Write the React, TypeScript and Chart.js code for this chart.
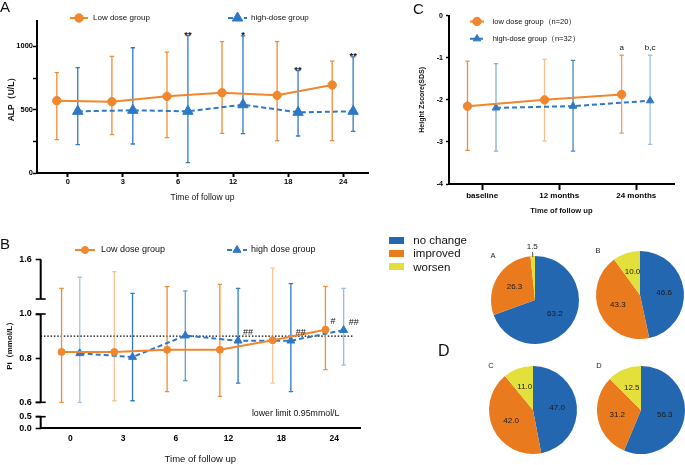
import React, { useEffect, useRef } from 'react';
import { Chart, registerables, LinearScale } from 'chart.js';

Chart.register(...registerables);

const FONT = "'Liberation Sans', Arial, Helvetica, sans-serif";
Chart.defaults.font.family = FONT;
Chart.defaults.color = '#000';

// ---------------- Panel A : ALP ----------------
const timeLabels = ['0', '3', '6', '12', '18', '24'];
const alpTicks = [0, 250, 500, 750, 1000];
const alpLowMean = [571, 563, 605, 634, 613, 695];
const alpLowLo = [263, 303, 279, 313, 255, 255];
const alpLowHi = [792, 921, 955, 1037, 1037, 884];
const alpHighMean = [487, 495, 487, 539, 479, 487];
const alpHighLo = [224, 229, 82, 311, 292, 329];
const alpHighHi = [832, 989, 1084, 1082, 808, 916];
const alpHighMarks = ['', '', '**', '*', '**', '**'];

// ---------------- Panel B : Pi ----------------
const piTicks = [0, 0.5, 0.6, 0.8, 1.0, 1.6];
const piLowMean = [0.828, 0.828, 0.838, 0.838, 0.881, 0.929];
const piLowLo = [0.6, 0.607, 0.648, 0.627, 0.687, 0.748];
const piLowHi = [1.308, 1.475, 1.324, 1.348, 1.512, 1.328];
const piHighMean = [0.822, 0.805, 0.902, 0.879, 0.879, 0.927];
const piHighLo = [0.6, 0.607, 0.698, 0.687, 0.648, 0.768];
const piHighHi = [1.419, 1.257, 1.281, 1.308, 1.354, 1.308];
const piLowMarks = ['', '', '', '', '', '#'];
const piHighMarks = ['', '', '', '##', '##', '##'];
const piLowerLimit = 0.9;
const piNote = 'lower limit 0.95mmol/L';

// ---------------- Panel C : Height Z score ----------------
const zLabels = ['baseline', '12 months', '24 months'];
const zTicks = [-4, -3, -2, -1, 0];
const zLowMean = [-2.15, -2.0, -1.87];
const zLowLo = [-3.2, -2.98, -2.79];
const zLowHi = [-1.08, -1.04, -0.94];
const zHighMean = [-2.19, -2.15, -2.02];
const zHighLo = [-3.22, -3.22, -3.06];
const zHighHi = [-1.14, -1.06, -0.94];
const zLowMarks = ['', '', 'a'];
const zHighMarks = ['', '', 'b,c'];

// ---------------- Panel D : pies ----------------
const pieCategories = ['no change', 'improved', 'worsen'];
const pieA = [63.2, 26.3, 1.5];
const pieB = [46.6, 43.3, 10.0];
const pieC = [47.0, 42.0, 11.0];
const pieD = [56.3, 31.2, 12.5];

// ---------------- styles ----------------
const ORANGE = '#F0862D';
const BLUE = '#2D79C5';
const PIE_COLORS = ['#2367B0', '#EA7A1E', '#E3E03C'];

// broken axis mapping for panel B (value -> fraction of axis height)
const brokenValues = [0, 0.5, 0.6, 1.0, 1.2, 1.6];
const brokenDecimals = [0, 0.0686, 0.1538, 0.6763, 0.765, 1];

function interp(v: number, xs: number[], ys: number[]) {
  for (let i = 1; i < xs.length; i++) {
    if (v <= xs[i] || i === xs.length - 1) {
      const t = (v - xs[i - 1]) / (xs[i] - xs[i - 1]);
      return ys[i - 1] + t * (ys[i] - ys[i - 1]);
    }
  }
  return ys[ys.length - 1];
}

class BrokenScale extends LinearScale {
  static id = 'broken';
  static defaults = LinearScale.defaults;
  getPixelForValue(value: number) {
    return this.getPixelForDecimal(interp(value, brokenValues, brokenDecimals));
  }
  getValueForPixel(pixel: number) {
    return interp(this.getDecimalForPixel(pixel), brokenDecimals, brokenValues);
  }
}
Chart.register(BrokenScale);

function drawMarker(ctx: CanvasRenderingContext2D, style: string, r: number, x: number, y: number) {
  ctx.beginPath();
  if (style === 'triangle') {
    let rad = 0;
    ctx.moveTo(x + Math.sin(rad) * r, y - Math.cos(rad) * r);
    rad += (2 * Math.PI) / 3;
    ctx.lineTo(x + Math.sin(rad) * r, y - Math.cos(rad) * r);
    rad += (2 * Math.PI) / 3;
    ctx.lineTo(x + Math.sin(rad) * r, y - Math.cos(rad) * r);
    ctx.closePath();
  } else {
    ctx.arc(x, y, r, 0, Math.PI * 2);
  }
  ctx.fill();
  ctx.stroke();
}

const errorBarPlugin = {
  id: 'errorBars',
  beforeDatasetsDraw(chart: any) {
    const ctx = chart.ctx;
    chart.data.datasets.forEach((ds: any, di: number) => {
      if (!ds.errLo) return;
      const meta = chart.getDatasetMeta(di);
      const ys = chart.scales[meta.yAxisID];
      ctx.save();
      ctx.lineWidth = 1.3;
      ctx.strokeStyle = ds.errColor;
      meta.data.forEach((pt: any, i: number) => {
        const x = pt.x;
        const y1 = ys.getPixelForValue(ds.errLo[i]);
        const y2 = ys.getPixelForValue(ds.errHi[i]);
        const cap = 2.2;
        ctx.globalAlpha = ds.errAlpha ? ds.errAlpha[i] : 1;
        ctx.beginPath();
        ctx.moveTo(x, y1);
        ctx.lineTo(x, y2);
        ctx.moveTo(x - cap, y1);
        ctx.lineTo(x + cap, y1);
        ctx.moveTo(x - cap, y2);
        ctx.lineTo(x + cap, y2);
        ctx.stroke();
      });
      ctx.restore();
    });
  },
};

const marksPlugin = {
  id: 'marks',
  afterDatasetsDraw(chart: any, _a: any, opts: any) {
    const ctx = chart.ctx;
    chart.data.datasets.forEach((ds: any, di: number) => {
      if (!ds.marks) return;
      const meta = chart.getDatasetMeta(di);
      const ys = chart.scales[meta.yAxisID];
      ctx.save();
      ctx.fillStyle = '#111';
      ctx.font = opts.font;
      meta.data.forEach((pt: any, i: number) => {
        const t = ds.marks[i];
        if (!t) return;
        if (opts.anchor === 'errTop') {
          ctx.textAlign = 'center';
          ctx.textBaseline = 'alphabetic';
          ctx.fillText(t, pt.x + opts.dx, ys.getPixelForValue(ds.errHi[i]) + opts.dy);
        } else {
          ctx.textAlign = 'left';
          ctx.textBaseline = 'middle';
          ctx.fillText(t, pt.x + opts.dx, pt.y + opts.dy);
        }
      });
      ctx.restore();
    });
  },
};

const lineLegendPlugin = {
  id: 'lineLegend',
  afterDraw(chart: any, _a: any, opts: any) {
    const ctx = chart.ctx;
    (opts.items || []).forEach((it: any) => {
      const ds = chart.data.datasets[it.dataset];
      ctx.save();
      ctx.strokeStyle = ds.borderColor;
      ctx.lineWidth = ds.borderWidth;
      ctx.setLineDash(ds.borderDash || []);
      ctx.beginPath();
      ctx.moveTo(it.x1, it.y);
      ctx.lineTo(it.x2, it.y);
      ctx.stroke();
      ctx.setLineDash([]);
      ctx.fillStyle = ds.backgroundColor;
      ctx.lineWidth = 1;
      drawMarker(ctx, ds.pointStyle, ds.pointRadius, (it.x1 + it.x2) / 2, it.y);
      ctx.fillStyle = '#111';
      ctx.font = opts.font;
      ctx.textAlign = 'left';
      ctx.textBaseline = 'middle';
      ctx.fillText(ds.label, it.textX, it.y);
      ctx.restore();
    });
  },
};

const brokenAxisPlugin = {
  id: 'brokenAxis',
  beforeDatasetsDraw(chart: any, _a: any, opts: any) {
    const { ctx, chartArea } = chart;
    const y = chart.scales.y;
    const x = chart.scales.x;
    const ry = y.getPixelForValue(opts.refValue);
    ctx.save();
    ctx.strokeStyle = '#000';
    ctx.lineWidth = 1.2;
    ctx.setLineDash([1.5, 1.8]);
    ctx.beginPath();
    ctx.moveTo(chartArea.left, ry);
    ctx.lineTo(x.getPixelForValue(opts.refEnd), ry);
    ctx.stroke();
    ctx.restore();
  },
  afterDraw(chart: any, _a: any, opts: any) {
    const { ctx, chartArea } = chart;
    const y = chart.scales.y;
    const x = chart.scales.x;
    const ax = chartArea.left;
    ctx.save();
    ctx.strokeStyle = '#000';
    ctx.lineWidth = 2;
    opts.segments.forEach((s: number[]) => {
      ctx.beginPath();
      ctx.moveTo(ax, y.getPixelForValue(s[0]));
      ctx.lineTo(ax, y.getPixelForValue(s[1]));
      ctx.stroke();
    });
    ctx.lineWidth = 1.6;
    opts.caps.forEach((v: number) => {
      const py = y.getPixelForValue(v);
      ctx.beginPath();
      ctx.moveTo(ax - 5, py);
      ctx.lineTo(ax + 5, py);
      ctx.stroke();
    });
    ctx.fillStyle = '#111';
    ctx.font = opts.noteFont;
    ctx.textAlign = 'right';
    ctx.textBaseline = 'middle';
    ctx.fillText(opts.note, x.getPixelForValue(opts.noteX), y.getPixelForValue(opts.noteY));
    ctx.restore();
  },
};

const pieTextPlugin = {
  id: 'pieText',
  afterDatasetsDraw(chart: any, _a: any, opts: any) {
    const ctx = chart.ctx;
    const meta = chart.getDatasetMeta(0);
    const vals: number[] = chart.data.datasets[0].data;
    const total = vals.reduce((a, b) => a + b, 0);
    let cx = 0;
    let cy = 0;
    ctx.save();
    ctx.fillStyle = '#1a1a1a';
    ctx.strokeStyle = '#333';
    ctx.lineWidth = 0.8;
    ctx.textAlign = 'center';
    ctx.textBaseline = 'middle';
    ctx.font = `8px ${FONT}`;
    meta.data.forEach((arc: any, i: number) => {
      const p = arc.getProps(['x', 'y', 'startAngle', 'endAngle', 'outerRadius'], true);
      cx = p.x;
      cy = p.y;
      const mid = (p.startAngle + p.endAngle) / 2;
      const label = vals[i].toFixed(1);
      if (vals[i] / total < 0.04) {
        const r = p.outerRadius;
        ctx.beginPath();
        ctx.moveTo(p.x + Math.cos(mid) * (r - 1), p.y + Math.sin(mid) * (r - 1));
        ctx.lineTo(p.x + Math.cos(mid) * (r + 4), p.y + Math.sin(mid) * (r + 4));
        ctx.stroke();
        ctx.fillText(label, p.x + Math.cos(mid) * (r + 9), p.y + Math.sin(mid) * (r + 9));
      } else {
        const r = p.outerRadius * 0.55;
        ctx.fillText(label, p.x + Math.cos(mid) * r, p.y + Math.sin(mid) * r);
      }
    });
    ctx.font = `7.5px ${FONT}`;
    ctx.fillStyle = '#222';
    ctx.fillText(opts.name, cx - 42, cy - 44);
    ctx.restore();
  },
};

function series(label: string, mean: number[], lo: number[], hi: number[], marks: string[] | null, offset: number, style: any) {
  return {
    label,
    data: mean.map((v, i) => ({ x: i + offset, y: v })),
    errLo: lo,
    errHi: hi,
    marks,
    ...style,
  };
}

function lowStyle(r: number, alpha?: number[]) {
  return {
    borderColor: ORANGE,
    backgroundColor: ORANGE,
    pointBackgroundColor: ORANGE,
    pointBorderColor: ORANGE,
    borderWidth: 2,
    pointStyle: 'circle',
    pointRadius: r,
    pointBorderWidth: 1,
    errColor: 'rgba(242,140,52,1)',
    errAlpha: alpha,
    tension: 0,
  };
}

function highStyle(r: number, alpha?: number[]) {
  return {
    borderColor: BLUE,
    backgroundColor: BLUE,
    pointBackgroundColor: BLUE,
    pointBorderColor: BLUE,
    borderWidth: 2,
    borderDash: [5, 3],
    pointStyle: 'triangle',
    pointRadius: r,
    pointBorderWidth: 1,
    errColor: 'rgba(50,122,198,1)',
    errAlpha: alpha,
    tension: 0,
  };
}

const baseOpts = {
  responsive: false,
  animation: false,
  events: [],
};

function makeA() {
  return {
    type: 'line',
    data: {
      datasets: [
        series('Low dose group', alpLowMean, alpLowLo, alpLowHi, null, -0.2, lowStyle(4.2)),
        series('high-dose group', alpHighMean, alpHighLo, alpHighHi, alpHighMarks, 0.18, highStyle(6)),
      ],
    },
    options: {
      ...baseOpts,
      layout: { padding: { left: 0, top: 21, right: 12, bottom: 0 } },
      plugins: {
        legend: { display: false },
        tooltip: { enabled: false },
        lineLegend: {
          font: `8px ${FONT}`,
          items: [
            { dataset: 0, x1: 70, x2: 88, y: 18, textX: 93 },
            { dataset: 1, x1: 228, x2: 247, y: 18, textX: 251 },
          ],
        },
        marks: { anchor: 'errTop', dx: 0, dy: 2.5, font: `bold 9.5px ${FONT}` },
      },
      scales: {
        x: {
          type: 'linear',
          min: -0.56,
          max: 5.45,
          afterBuildTicks: (s: any) => { s.ticks = timeLabels.map((_, i) => ({ value: i })); },
          afterFit: (s: any) => { s.height = 47; },
          border: { display: true, color: '#000', width: 2 },
          grid: { display: true, drawOnChartArea: false, drawTicks: true, tickLength: 4, tickColor: '#000', tickWidth: 2 },
          ticks: { autoSkip: false, maxRotation: 0, padding: 0, color: '#000', font: { size: 7.5, weight: 'bold' }, callback: (_v: any, i: number) => timeLabels[i] },
          title: { display: true, text: 'Time of follow up', color: '#111', font: { size: 8.5 }, padding: { top: 0, bottom: 16.9 } },
        },
        y: {
          type: 'linear',
          min: 0,
          max: 1200,
          afterBuildTicks: (s: any) => { s.ticks = alpTicks.map((v) => ({ value: v })); },
          afterFit: (s: any) => { s.width = 37; },
          border: { display: true, color: '#000', width: 2 },
          grid: { display: true, drawOnChartArea: false, drawTicks: true, tickLength: 4, tickColor: '#000', tickWidth: 1.5 },
          ticks: { autoSkip: false, padding: 0, color: '#000', font: { size: 7.5, weight: 'bold' }, callback: (v: any) => (v % 500 === 0 ? String(v) : '') },
          title: { display: true, text: 'ALP（U/L）', color: '#111', font: { size: 8.5, weight: 'bold' }, padding: { top: 6.9, bottom: 0 } },
        },
      },
    },
    plugins: [errorBarPlugin, marksPlugin, lineLegendPlugin],
  };
}

function makeB() {
  return {
    type: 'line',
    data: {
      datasets: [
        series('Low dose group', piLowMean, piLowLo, piLowHi, piLowMarks, -0.165, lowStyle(3.5, [1, 0.5, 1, 1, 0.5, 1])),
        series('high dose group', piHighMean, piHighLo, piHighHi, piHighMarks, 0.18, highStyle(4.6, [0.45, 1, 0.75, 1, 1, 0.5])),
      ],
    },
    options: {
      ...baseOpts,
      layout: { padding: { left: 0, top: 34.3, right: 30, bottom: 0 } },
      plugins: {
        legend: { display: false },
        tooltip: { enabled: false },
        lineLegend: {
          font: `9px ${FONT}`,
          items: [
            { dataset: 0, x1: 75, x2: 95, y: 25, textX: 101 },
            { dataset: 1, x1: 227, x2: 247, y: 25, textX: 251 },
          ],
        },
        marks: { anchor: 'point', dx: 5, dy: -8, font: `9px ${FONT}` },
        brokenAxis: {
          refValue: piLowerLimit,
          refEnd: 5.36,
          segments: [[0, 0.5], [0.6, 1.0], [1.2, 1.6]],
          caps: [0.5, 0.6, 1.0, 1.2],
          note: piNote,
          noteFont: `8.8px ${FONT}`,
          noteX: 5.1,
          noteY: 0.52,
        },
      },
      scales: {
        x: {
          type: 'linear',
          min: -0.56,
          max: 5.49,
          afterBuildTicks: (s: any) => { s.ticks = timeLabels.map((_, i) => ({ value: i })); },
          afterFit: (s: any) => { s.height = 36.7; },
          border: { display: true, color: '#000', width: 2 },
          grid: { display: true, drawOnChartArea: false, drawTicks: false },
          ticks: { autoSkip: false, maxRotation: 0, padding: 5, color: '#000', font: { size: 8.5, weight: 'bold' }, callback: (_v: any, i: number) => timeLabels[i] },
          title: { display: true, text: 'Time of follow up', color: '#111', font: { size: 9.5 }, padding: { top: 0, bottom: 0 } },
        },
        y: {
          type: 'broken',
          min: 0,
          max: 1.6,
          afterBuildTicks: (s: any) => { s.ticks = piTicks.map((v) => ({ value: v })); },
          afterFit: (s: any) => { s.width = 40.7; },
          border: { display: false },
          grid: { display: true, drawOnChartArea: false, drawTicks: true, tickLength: 5, tickColor: '#000', tickWidth: 1.6 },
          ticks: { autoSkip: false, padding: 4, color: '#000', font: { size: 9, weight: 'bold' }, callback: (v: any) => Number(v).toFixed(1) },
          title: { display: true, text: 'Pi（mmol/L）', color: '#111', font: { size: 8, weight: 'bold' }, padding: { top: 5.2, bottom: 0 } },
        },
      },
    },
    plugins: [brokenAxisPlugin, errorBarPlugin, marksPlugin, lineLegendPlugin],
  };
}

function makeC() {
  return {
    type: 'line',
    data: {
      datasets: [
        series('low dose group（n=20）', zLowMean, zLowLo, zLowHi, zLowMarks, -0.19, lowStyle(4.2, [1, 0.55, 0.85])),
        series('high-dose group（n=32）', zHighMean, zHighLo, zHighHi, zHighMarks, 0.18, highStyle(4.3, [0.6, 0.9, 0.45])),
      ],
    },
    options: {
      ...baseOpts,
      layout: { padding: { left: 0, top: 15.7, right: 11, bottom: 0 } },
      plugins: {
        legend: { display: false },
        tooltip: { enabled: false },
        lineLegend: {
          font: `7.5px ${FONT}`,
          items: [
            { dataset: 0, x1: 90, x2: 104, y: 21.5, textX: 112.7 },
            { dataset: 1, x1: 90, x2: 104, y: 38.7, textX: 112.7 },
          ],
        },
        marks: { anchor: 'errTop', dx: 0, dy: -5.5, font: `8px ${FONT}` },
      },
      scales: {
        x: {
          type: 'linear',
          min: -0.43,
          max: 2.49,
          afterBuildTicks: (s: any) => { s.ticks = zLabels.map((_, i) => ({ value: i })); },
          afterFit: (s: any) => { s.height = 36; },
          border: { display: true, color: '#000', width: 2 },
          grid: { display: true, drawOnChartArea: false, drawTicks: true, tickLength: 6, tickColor: '#000', tickWidth: 2 },
          ticks: { autoSkip: false, maxRotation: 0, padding: 1, color: '#000', font: { size: 8, weight: 'bold' }, callback: (_v: any, i: number) => zLabels[i] },
          title: { display: true, text: 'Time of follow up', color: '#111', font: { size: 7.6, weight: 'bold' }, padding: { top: 0, bottom: 4.4 } },
        },
        y: {
          type: 'linear',
          min: -4,
          max: 0,
          afterBuildTicks: (s: any) => { s.ticks = zTicks.map((v) => ({ value: v })); },
          afterFit: (s: any) => { s.width = 69; },
          border: { display: true, color: '#000', width: 2 },
          grid: { display: true, drawOnChartArea: false, drawTicks: true, tickLength: 3, tickColor: '#000', tickWidth: 1.5 },
          ticks: { autoSkip: false, padding: 3, color: '#000', font: { size: 7, weight: 'bold' }, callback: (v: any) => String(v) },
          title: { display: true, text: 'Height Zscore(SDS)', color: '#111', font: { size: 7, weight: 'bold' }, padding: { top: 37.8, bottom: 0 } },
        },
      },
    },
    plugins: [errorBarPlugin, marksPlugin, lineLegendPlugin],
  };
}

function makePie(values: number[], name: string) {
  return () => ({
    type: 'pie',
    data: {
      labels: pieCategories,
      datasets: [{ data: values, backgroundColor: PIE_COLORS, borderWidth: 0, hoverOffset: 0 }],
    },
    options: {
      ...baseOpts,
      radius: 44,
      layout: { padding: 0 },
      plugins: { legend: { display: false }, tooltip: { enabled: false }, pieText: { name } },
    },
    plugins: [pieTextPlugin],
  });
}

function ChartBox(props: { left: number; top: number; width: number; height: number; make: () => any }) {
  const ref = useRef<HTMLCanvasElement>(null);
  useEffect(() => {
    const chart = new Chart(ref.current as HTMLCanvasElement, props.make());
    return () => chart.destroy();
  }, []);
  return (
    <canvas
      ref={ref}
      width={props.width}
      height={props.height}
      style={{ position: 'absolute', left: props.left, top: props.top, width: props.width, height: props.height }}
    />
  );
}

const letterStyle = (left: number, top: number, size: number): React.CSSProperties => ({
  position: 'absolute',
  left,
  top,
  fontSize: size,
  lineHeight: `${size}px`,
  color: '#111',
  fontFamily: FONT,
});

export default function App() {
  return (
    <div style={{ position: 'absolute', left: 0, top: 0, width: 685, height: 465, overflow: 'hidden', background: '#fff', fontFamily: FONT }}>
      <ChartBox left={0} top={0} width={380} height={220} make={makeA} />
      <ChartBox left={380} top={0} width={305} height={220} make={makeC} />
      <ChartBox left={0} top={225} width={390} height={240} make={makeB} />
      <ChartBox left={475} top={240} width={120} height={120} make={makePie(pieA, 'A')} />
      <ChartBox left={580} top={235} width={120} height={120} make={makePie(pieB, 'B')} />
      <ChartBox left={473} top={350} width={120} height={120} make={makePie(pieC, 'C')} />
      <ChartBox left={581} top={350} width={120} height={120} make={makePie(pieD, 'D')} />

      <div style={letterStyle(0, -1, 15)}>A</div>
      <div style={letterStyle(0, 236.3, 15)}>B</div>
      <div style={letterStyle(413, 0.7, 15)}>C</div>
      <div style={letterStyle(438, 342.9, 16)}>D</div>

      {pieCategories.map((c, i) => (
        <div
          key={c}
          style={{ position: 'absolute', left: 389, top: 233 + i * 13.3, height: 14, display: 'flex', alignItems: 'center' }}
        >
          <span style={{ display: 'inline-block', width: 15, height: 7, background: PIE_COLORS[i] }} />
          <span style={{ marginLeft: 9.3, fontSize: 11.5, lineHeight: '14px', color: '#111', whiteSpace: 'nowrap' }}>{c}</span>
        </div>
      ))}
    </div>
  );
}
